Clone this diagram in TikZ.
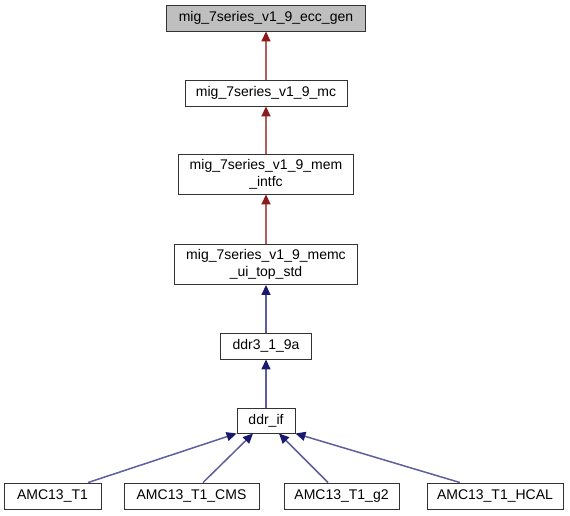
\documentclass[tikz,border=0pt]{standalone}
\usepackage{fontspec}
\setmainfont{Liberation Sans}
\usepackage{tikz}
\usetikzlibrary{arrows.meta}

\definecolor{firebrick}{HTML}{8B1A1A}
\definecolor{midnight}{HTML}{191970}

\begin{document}
\begin{tikzpicture}[x=1pt, y=-1pt,
  nodes={font=\fontsize{14}{17}\selectfont, align=center, inner sep=0pt},
  box/.style={draw=black!80, fill=white, line width=0.9pt, minimum height=26},
  redinh/.style={draw=firebrick!70!white, line width=1.8pt,
    -{Triangle[length=10pt, width=9pt, color=firebrick, fill=firebrick]}},
  blueinh/.style={draw=midnight!70!white, line width=1.5pt,
    -{Triangle[length=10pt, width=9pt, color=midnight, fill=midnight]}}]
\useasboundingbox (0, 0) rectangle (570, 515);

\node[box, fill=black!25, minimum width=199] (ecc)  at (266, 18)  {mig\_7series\_v1\_9\_ecc\_gen};
\node[box, minimum width=162] (mc)   at (266, 93)    {mig\_7series\_v1\_9\_mc};
\node[box, minimum width=175, minimum height=40] (mem)  at (266, 174)  {mig\_7series\_v1\_9\_mem\\\_intfc};
\node[box, minimum width=183, minimum height=40] (memc) at (266, 264.5) {mig\_7series\_v1\_9\_memc\\\_ui\_top\_std};
\node[box, minimum width=91]  (ddr3) at (266, 346)  {ddr3\_1\_9a};
\node[box, minimum width=58, minimum height=25] (ddrif) at (266, 420.5) {ddr\_if};
\node[box, minimum width=97]  (t1)   at (52.5, 496)  {AMC13\_T1};
\node[box, minimum width=135] (cms)  at (191.5, 496) {AMC13\_T1\_CMS};
\node[box, minimum width=115] (g2)   at (341.5, 496) {AMC13\_T1\_g2};
\node[box, minimum width=136] (hcal) at (495, 496)   {AMC13\_T1\_HCAL};

\draw[redinh] (mc.north) -- (ecc.south);
\draw[redinh] (mem.north) -- (mc.south);
\draw[redinh] (memc.north) -- (mem.south);
\draw[blueinh] (ddr3.north) -- (memc.south);
\draw[blueinh] (ddrif.north) -- (ddr3.south);
\draw[blueinh] ([xshift=35.5pt]t1.north) -- (ddrif.south west);
\draw[blueinh] ([xshift=11.5pt]cms.north) -- ([xshift=-13pt]ddrif.south);
\draw[blueinh] ([xshift=-13.5pt]g2.north) -- ([xshift=13pt]ddrif.south);
\draw[blueinh] ([xshift=-35pt]hcal.north) -- (ddrif.south east);
\end{tikzpicture}
\end{document}
